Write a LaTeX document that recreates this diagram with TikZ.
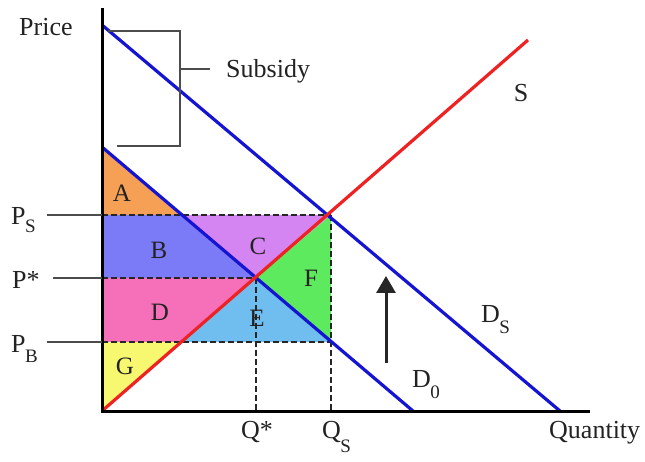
\documentclass[tikz,border=0pt]{standalone}
\usepackage{fontspec}
\setmainfont{Liberation Serif}
\usetikzlibrary{arrows.meta}
\definecolor{cA}{HTML}{F5A055}
\definecolor{cB}{HTML}{7B7BF7}
\definecolor{cC}{HTML}{D585F2}
\definecolor{cD}{HTML}{F570B8}
\definecolor{cE}{HTML}{70BDF0}
\definecolor{cF}{HTML}{5EEA5E}
\definecolor{cG}{HTML}{F8F870}
\definecolor{dblue}{HTML}{1414D2}
\definecolor{dred}{HTML}{EE2222}
\definecolor{txt}{HTML}{222222}
\newcommand\mysub[2]{\kern-0.5pt\raisebox{-#1pt}{\fontsize{19}{20}\selectfont #2}}
\begin{document}
\begin{tikzpicture}[x=1pt,y=-1pt,
  lbl/.style={font=\fontsize{26}{28}\selectfont, text=txt, inner sep=0pt},
  area/.style={font=\fontsize{25}{27}\selectfont, text=txt, inner sep=0pt},
  curve/.style={line width=3.2pt},
  guide/.style={line width=1.2pt, dash pattern=on 6pt off 3pt, black!85},
  tick/.style={line width=2.2pt, black!70},
  brack/.style={line width=2pt, black!70}]
\useasboundingbox (0,0) rectangle (645,462);
% key points
\coordinate (O) at (102,411);
\coordinate (Ytop) at (102,8);
\coordinate (Xend) at (590,411);
\coordinate (DSa) at (102,25);
\coordinate (DSb) at (560,411);
\coordinate (D0a) at (102,147);
\coordinate (D0b) at (413,411);
\coordinate (Sb) at (528,40);
\coordinate (PS) at (102,215);
\coordinate (PE) at (102,278);
\coordinate (PB) at (102,342);
\coordinate (DPS) at (182,215);
\coordinate (SPB) at (181,342);
\coordinate (EQ) at (256,278);
\coordinate (QSt) at (331,215);
\coordinate (QSb) at (331,342);
\coordinate (Qst) at (256,411);
\coordinate (QSx) at (331,411);
% fills
\fill[cA] (D0a) -- (PS) -- (DPS) -- cycle;
\fill[cB] (PS) -- (DPS) -- (EQ) -- (PE) -- cycle;
\fill[cC] (DPS) -- (QSt) -- (EQ) -- cycle;
\fill[cD] (PE) -- (EQ) -- (SPB) -- (PB) -- cycle;
\fill[cE] (EQ) -- (QSb) -- (SPB) -- cycle;
\fill[cF] (EQ) -- (QSt) -- (QSb) -- cycle;
\fill[cG] (PB) -- (SPB) -- (O) -- cycle;
% dashed guides
\draw[guide] (PS) -- (QSt);
\draw[guide] (PE) -- (EQ);
\draw[guide] (PB) -- (QSb);
\draw[guide] (EQ) -- (Qst);
\draw[guide] (QSt) -- (QSx);
% curves
\draw[curve, dblue] (DSa) -- (DSb);
\draw[curve, dblue] (D0a) -- (D0b);
\draw[curve, dred] (O) -- (Sb);
% axes
\draw[line width=3pt, black] (Ytop) -- (O) -- (Xend);
% ticks
\coordinate (tPS) at (47,215);
\coordinate (tPE) at (53,278);
\coordinate (tPB) at (47,342);
\draw[tick] (tPS) -- (PS);
\draw[tick] (tPE) -- (PE);
\draw[tick] (tPB) -- (PB);
% subsidy bracket
\coordinate (b1) at (108,31);
\coordinate (b2) at (180,31);
\coordinate (b3) at (180,146);
\coordinate (b4) at (117,146);
\coordinate (bm) at (180,69);
\coordinate (bt) at (210,69);
\draw[brack] (b1) -- (b2) -- (b3) -- (b4);
\draw[brack] (bm) -- (bt);
% arrow
\coordinate (ar1) at (386,363);
\coordinate (ar2) at (386,276);
\draw[line width=3pt, black!85, -{Triangle[length=17pt,width=19pt]}] (ar1) -- (ar2);
% labels
\node[lbl, anchor=base west] (price) at (19,36) {Price};
\node[lbl, anchor=base west] (subs) at (226,78) {Subsidy};
\node[lbl, anchor=base] (sl) at (521,102) {S};
\node[lbl, anchor=base west] (dsl) at (481,322) {D\mysub{12}{S}};
\node[lbl, anchor=base west] (d0l) at (412,387) {D\mysub{11}{0}};
\node[lbl, anchor=base] (qstar) at (257,438) {Q*};
\node[lbl, anchor=base west] (qs) at (322,438) {Q\mysub{14}{S}};
\node[lbl, anchor=base west] (qty) at (549,438) {Quantity};
\node[lbl, anchor=base west] (psl) at (11,225) {P\mysub{8}{S}};
\node[lbl, anchor=base west] (pel) at (12,288) {P*};
\node[lbl, anchor=base west] (pbl) at (11,352) {P\mysub{10}{B}};
\node[area] (la) at (122,193) {A};
\node[area] (lb) at (159,250) {B};
\node[area] (lc) at (258,246) {C};
\node[area] (ld) at (160,312) {D};
\node[area] (le) at (257,318) {E};
\node[area] (lf) at (311,278) {F};
\node[area] (lg) at (125,366) {G};
\end{tikzpicture}
\end{document}
